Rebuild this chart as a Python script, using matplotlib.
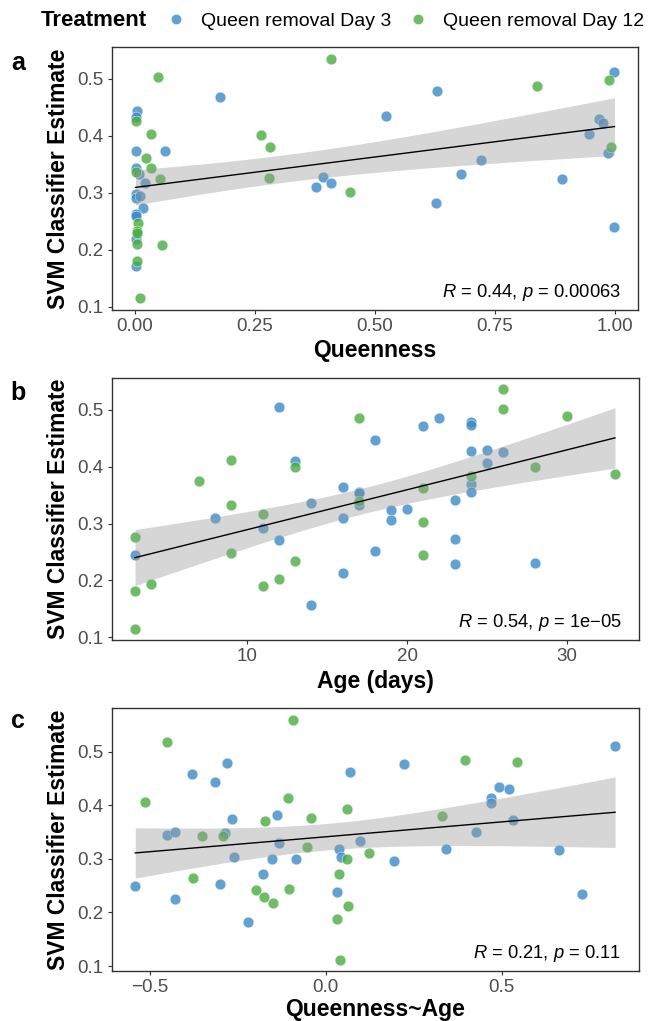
import numpy as np
import matplotlib
matplotlib.use("Agg")
import matplotlib.pyplot as plt
from matplotlib.lines import Line2D

plt.rcParams['font.family'] = ['Liberation Sans', 'DejaVu Sans']
plt.rcParams['mathtext.fontset'] = 'custom'
plt.rcParams['mathtext.rm'] = 'Liberation Sans'
plt.rcParams['mathtext.it'] = 'Liberation Sans:italic'

# panel a: queenness vs estimate
a_day3_x = [0.005, 0.002, 0.176, 0.522, 0.002, 0.0625, 0.003, 0.008, 0.021, 0.391, 0.378, 0.408,
            0.002, 0.003, 0.010, 0.016, 0.001, 0.002, 0.002, 0.001, 0.999, 0.630, 0.967, 0.976,
            0.946, 0.985, 0.720, 0.679, 0.889, 0.627, 0.998]
a_day3_y = [0.444, 0.433, 0.469, 0.435, 0.374, 0.374, 0.343, 0.334, 0.318, 0.328, 0.311, 0.317,
            0.298, 0.292, 0.295, 0.274, 0.263, 0.260, 0.219, 0.172, 0.513, 0.478, 0.430, 0.423,
            0.404, 0.370, 0.357, 0.334, 0.325, 0.282, 0.241]
a_day12_x = [0.048, 0.408, 0.002, 0.033, 0.262, 0.282, 0.022, 0.033, 0.003, 0.052, 0.279, 0.447,
             0.007, 0.005, 0.004, 0.004, 0.056, 0.005, 0.010, 0.988, 0.837, 0.992]
a_day12_y = [0.504, 0.535, 0.426, 0.404, 0.401, 0.380, 0.362, 0.343, 0.337, 0.325, 0.326, 0.302,
             0.247, 0.234, 0.229, 0.211, 0.208, 0.180, 0.115, 0.498, 0.487, 0.380]

# panel b: age vs estimate
b_day3_x = [3, 8, 11, 12, 12, 13, 14, 14, 16, 16, 16, 17, 17, 17, 18, 18, 19, 19, 20, 21, 22,
            23, 23, 23, 24, 24, 24, 24, 24, 25, 25, 26, 28]
b_day3_y = [0.245, 0.310, 0.292, 0.505, 0.271, 0.410, 0.336, 0.156, 0.364, 0.310, 0.213, 0.356,
            0.353, 0.333, 0.447, 0.251, 0.324, 0.306, 0.325, 0.472, 0.485, 0.342, 0.273, 0.228,
            0.478, 0.474, 0.427, 0.370, 0.356, 0.430, 0.406, 0.426, 0.230]
b_day12_x = [3, 3, 3, 4, 7, 9, 9, 9, 11, 11, 12, 13, 13, 17, 17, 21, 21, 21, 24, 26, 26, 28, 30, 33]
b_day12_y = [0.276, 0.181, 0.115, 0.194, 0.374, 0.412, 0.332, 0.249, 0.317, 0.191, 0.202, 0.400,
             0.235, 0.485, 0.339, 0.362, 0.302, 0.244, 0.384, 0.536, 0.501, 0.400, 0.489, 0.388]

# panel c: queenness~age residual vs estimate
c_day3_x = [-0.541, -0.452, -0.427, -0.427, -0.381, -0.314, -0.299, -0.285, -0.279, -0.266,
            -0.261, -0.221, -0.177, -0.153, -0.137, -0.134, -0.083, 0.033, 0.039, 0.044, 0.069,
            0.098, 0.195, 0.222, 0.341, 0.427, 0.469, 0.469, 0.491, 0.522, 0.531, 0.664, 0.727, 0.822]
c_day3_y = [0.250, 0.344, 0.351, 0.225, 0.459, 0.443, 0.253, 0.348, 0.480, 0.375, 0.303, 0.183,
            0.271, 0.299, 0.382, 0.329, 0.299, 0.238, 0.318, 0.304, 0.463, 0.334, 0.297, 0.478,
            0.319, 0.350, 0.413, 0.405, 0.435, 0.430, 0.372, 0.317, 0.235, 0.511]
c_day12_x = [-0.513, -0.452, -0.378, -0.352, -0.291, -0.197, -0.173, -0.175, -0.149, -0.106,
             -0.103, -0.092, -0.054, -0.041, 0.033, 0.039, 0.041, 0.061, 0.063, 0.061, 0.124,
             0.330, 0.396, 0.543]
c_day12_y = [0.406, 0.519, 0.265, 0.342, 0.342, 0.242, 0.371, 0.229, 0.218, 0.413, 0.244, 0.560,
             0.322, 0.377, 0.187, 0.272, 0.112, 0.300, 0.213, 0.393, 0.311, 0.380, 0.485, 0.482]

stats_text = [r'$R$ = 0.44, $p$ = 0.00063', r'$R$ = 0.54, $p$ = 1e' + '\u2212' + '05',
              r'$R$ = 0.21, $p$ = 0.11']
x_titles = ['Queenness', 'Age (days)', 'Queenness~Age']
panel_letters = ['a', 'b', 'c']
x_ticks = [[0, 0.25, 0.5, 0.75, 1.0], [10, 20, 30], [-0.5, 0.0, 0.5]]
x_ticklabels = [['0.00', '0.25', '0.50', '0.75', '1.00'], ['10', '20', '30'],
                ['\u22120.5', '0.0', '0.5']]
y_ticks = [0.1, 0.2, 0.3, 0.4, 0.5]
treatments = ['Queen removal Day 3', 'Queen removal Day 12']

blue = '#3a8bc8'
green = '#47ad40'

figure = plt.figure(figsize=(6.52, 10.21), dpi=100)
W, H = 652.0, 1021.0

# pixel boxes (left, top, right, bottom)
boxes = [(112, 47, 638, 310), (112, 378, 639, 640), (112, 708, 639, 971)]
xlims = [(-0.048, 1.048), (1.56, 34.5), (-0.607, 0.890)]
ylims = [(0.0947, 0.556), (0.0952, 0.556), (0.0907, 0.582)]
letter_y = [63, 393, 721]
xlabel_pads = [3, 3, 1]

panels = [(a_day3_x, a_day3_y, a_day12_x, a_day12_y),
          (b_day3_x, b_day3_y, b_day12_x, b_day12_y),
          (c_day3_x, c_day3_y, c_day12_x, c_day12_y)]


def add_fit(ax, x, y):
    x = np.asarray(x, float)
    y = np.asarray(y, float)
    n = len(x)
    slope, icpt = np.polyfit(x, y, 1)
    xs = np.linspace(x.min(), x.max(), 100)
    yhat = icpt + slope * xs
    resid = y - (icpt + slope * x)
    s = np.sqrt(np.sum(resid ** 2) / (n - 2))
    xm = x.mean()
    se = s * np.sqrt(1.0 / n + (xs - xm) ** 2 / np.sum((x - xm) ** 2))
    t = 2.005
    ax.fill_between(xs, yhat - t * se, yhat + t * se, color='#999999', alpha=0.4,
                    linewidth=0, zorder=3)
    ax.plot(xs, yhat, color='black', linewidth=1.0, zorder=4)


for i, (x3, y3, x12, y12) in enumerate(panels):
    l, t, r, b = boxes[i]
    ax = figure.add_axes([l / W, 1 - b / H, (r - l) / W, (b - t) / H])
    ax.scatter(x3, y3, s=60, color=blue, alpha=0.8, edgecolors='white', linewidths=0.4, zorder=2)
    ax.scatter(x12, y12, s=60, color=green, alpha=0.8, edgecolors='white', linewidths=0.4, zorder=2)
    add_fit(ax, list(x3) + list(x12), list(y3) + list(y12))

    ax.set_xlim(xlims[i])
    ax.set_ylim(ylims[i])
    ax.set_xticks(x_ticks[i])
    ax.set_xticklabels(x_ticklabels[i])
    ax.set_yticks(y_ticks)
    ax.set_yticklabels(['%.1f' % v for v in y_ticks])
    ax.tick_params(axis='both', length=3, width=0.8, color='#333333', labelcolor='#4D4D4D',
                   labelsize=13.5, pad=3)
    for sp in ax.spines.values():
        sp.set_color('#333333')
        sp.set_linewidth(1.0)
    ax.set_xlabel(x_titles[i], fontsize=16.5, fontweight='bold', labelpad=xlabel_pads[i])
    ax.set_ylabel('SVM Classifier Estimate', fontsize=16.5, fontweight='bold', labelpad=5)
    ax.text(0.967, 0.068, stats_text[i], transform=ax.transAxes, ha='right', va='center',
            fontsize=13.2, color='black')
    figure.text(18 / W, 1 - letter_y[i] / H, panel_letters[i], fontsize=18, fontweight='bold',
                ha='center', va='center')

# legend at top
figure.text(41 / W, 1 - 21 / H, 'Treatment', fontsize=16, fontweight='bold', ha='left', va='center')
handles = [Line2D([], [], linestyle='none', marker='o', markersize=7.5, markerfacecolor=c,
                  markeredgecolor='white', markeredgewidth=0.4, alpha=0.8) for c in [blue, green]]
figure.legend(handles, treatments, loc='center left', bbox_to_anchor=(168 / W, 1 - 21 / H),
              ncol=2, frameon=False, fontsize=14, handlelength=0.8, handletextpad=0.9,
              columnspacing=0.95, borderpad=0, borderaxespad=0)

figure.savefig('out.png', dpi=100)
